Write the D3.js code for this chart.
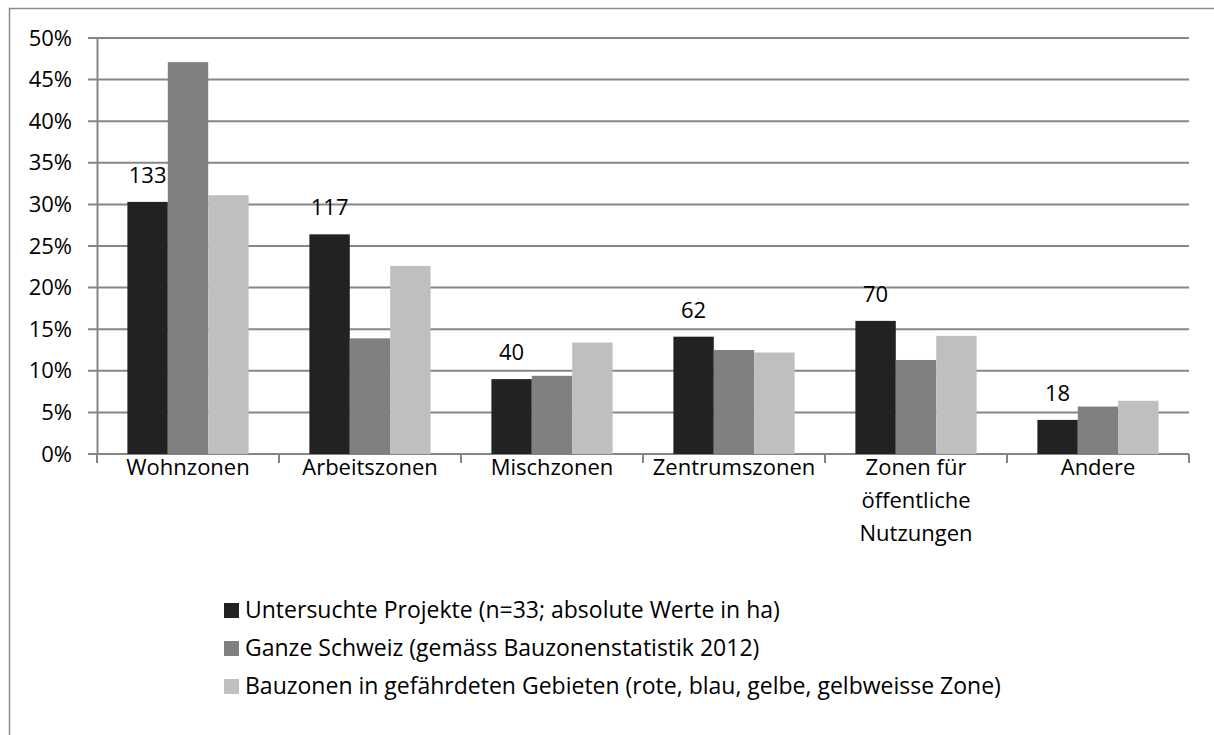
<!DOCTYPE html>
<html>
<head>
<meta charset="utf-8">
<script src="https://d3js.org/d3.v7.min.js"></script>
<style>
  body { margin: 0; background: #fff; }
  svg { display: block; font-family: "Open Sans", "Liberation Sans", sans-serif; }
</style>
</head>
<body>
<svg id="chart"></svg>
<script>
// data
var categories = ["Wohnzonen", "Arbeitszonen", "Mischzonen", "Zentrumszonen", "Zonen für öffentliche Nutzungen", "Andere"];
var categoryLines = [["Wohnzonen"], ["Arbeitszonen"], ["Mischzonen"], ["Zentrumszonen"], ["Zonen für", "öffentliche", "Nutzungen"], ["Andere"]];
var seriesNames = [
  "Untersuchte Projekte (n=33; absolute Werte in ha)",
  "Ganze Schweiz (gemäss Bauzonenstatistik 2012)",
  "Bauzonen in gefährdeten Gebieten (rote, blau, gelbe, gelbweisse Zone)"
];
var projekte = [30.3, 26.4, 9.0, 14.1, 16.0, 4.1];
var schweiz = [47.1, 13.9, 9.4, 12.5, 11.3, 5.7];
var gefaehrdet = [31.1, 22.6, 13.4, 12.2, 14.2, 6.4];
var hektar = [133, 117, 40, 62, 70, 18];
var yTicks = [0, 5, 10, 15, 20, 25, 30, 35, 40, 45, 50];
var colors = ["#222222", "#808080", "#bfbfbf"];

var W = 1214, H = 735;
var fs = 22;
var svg = d3.select("#chart").attr("width", W).attr("height", H);

// outer frame
svg.append("rect")
  .attr("x", 9.5).attr("y", 8.5)
  .attr("width", 1212).attr("height", 735)
  .attr("fill", "none").attr("stroke", "#8c8c8c").attr("stroke-width", 1.5);

var plotLeft = 97, plotRight = 1189, plotTop = 38, plotBottom = 454;

var x = d3.scaleBand().domain(categories).range([plotLeft, plotRight]).paddingInner(0.334).paddingOuter(0.167);
var x1 = d3.scaleBand().domain([0, 1, 2]).range([0, x.bandwidth()]);
var y = d3.scaleLinear().domain([0, 50]).range([plotBottom, plotTop]);

// gridlines
svg.append("g")
  .selectAll("line")
  .data(yTicks)
  .enter().append("line")
  .attr("x1", plotLeft - 9).attr("x2", plotRight)
  .attr("y1", function (d) { return y(d); })
  .attr("y2", function (d) { return y(d); })
  .attr("stroke", "#868686").attr("stroke-width", 2);

// y axis
var yAxis = d3.axisLeft(y).tickValues(yTicks).tickSize(0).tickPadding(25)
  .tickFormat(function (d) { return d + "%"; });
svg.append("g")
  .attr("transform", "translate(" + plotLeft + ",0)")
  .call(yAxis)
  .call(function (g) {
    g.select(".domain").attr("stroke", "#868686").attr("stroke-width", 2);
    g.selectAll("text").attr("font-size", fs).attr("fill", "#000")
      .attr("font-family", "'Open Sans', sans-serif");
  });

// x axis baseline and tick marks
svg.append("line")
  .attr("x1", plotLeft).attr("x2", plotRight).attr("y1", plotBottom).attr("y2", plotBottom)
  .attr("stroke", "#868686").attr("stroke-width", 2);

var step = x.step();
svg.append("g")
  .selectAll("line")
  .data(d3.range(categories.length + 1))
  .enter().append("line")
  .attr("x1", function (i) { return plotLeft + i * step; })
  .attr("x2", function (i) { return plotLeft + i * step; })
  .attr("y1", plotBottom).attr("y2", plotBottom + 9)
  .attr("stroke", "#868686").attr("stroke-width", 2);

// bars
var series = [projekte, schweiz, gefaehrdet];
series.forEach(function (vals, s) {
  svg.append("g")
    .selectAll("rect")
    .data(vals)
    .enter().append("rect")
    .attr("x", function (d, i) { return x(categories[i]) + x1(s); })
    .attr("y", function (d) { return y(d); })
    .attr("width", x1.bandwidth())
    .attr("height", function (d) { return plotBottom - y(d); })
    .attr("fill", colors[s]);
});

// hectare labels
svg.append("g")
  .selectAll("text")
  .data(hektar)
  .enter().append("text")
  .attr("x", function (d, i) { return x(categories[i]) + x1(0) + x1.bandwidth() / 2; })
  .attr("y", function (d, i) { return y(projekte[i]) - 19; })
  .attr("text-anchor", "middle")
  .attr("font-size", fs)
  .text(function (d) { return d; });

// category labels
var cl = svg.append("g")
  .selectAll("text")
  .data(categoryLines)
  .enter().append("text")
  .attr("text-anchor", "middle")
  .attr("font-size", fs)
  .attr("x", function (d, i) { return x(categories[i]) + x.bandwidth() / 2; })
  .attr("y", 475);
cl.selectAll("tspan")
  .data(function (d) { return d; })
  .enter().append("tspan")
  .attr("x", function () { return d3.select(this.parentNode).attr("x"); })
  .attr("dy", function (d, i) { return i === 0 ? 0 : 33; })
  .text(function (d) { return d; });

// legend
var legend = svg.append("g")
  .selectAll("g")
  .data(seriesNames)
  .enter().append("g")
  .attr("transform", function (d, i) { return "translate(224," + (610 + i * 38) + ")"; });
legend.append("rect")
  .attr("x", 0).attr("y", -7).attr("width", 15).attr("height", 15)
  .attr("fill", function (d, i) { return colors[i]; });
legend.append("text")
  .attr("x", 21).attr("y", 8)
  .attr("font-size", 23)
  .text(function (d) { return d; });
</script>
</body>
</html>
